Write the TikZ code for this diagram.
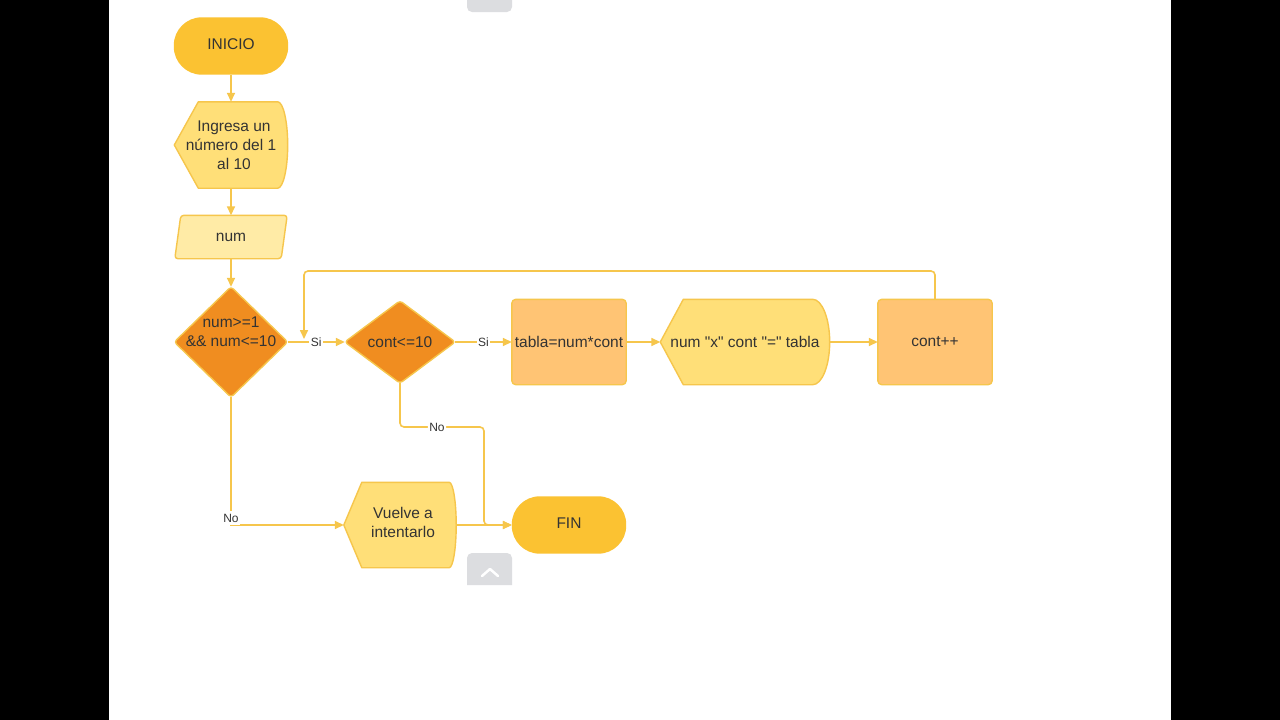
\documentclass[tikz,border=0pt]{standalone}
\usepackage{fontspec}
\setmainfont{Liberation Sans}[Ligatures=TeXOff]
\usetikzlibrary{arrows.meta,calc}
\definecolor{gold}{HTML}{FBC232}
\definecolor{lyel}{HTML}{FFDF78}
\definecolor{pyel}{HTML}{FFEBA6}
\definecolor{orng}{HTML}{F08D20}
\definecolor{lorng}{HTML}{FFC474}
\definecolor{edgec}{HTML}{F6C64C}
\definecolor{txt}{HTML}{333333}
\definecolor{tabgray}{HTML}{DCDDE0}
\pgfdeclarelayer{bg}
\pgfdeclarelayer{canvas}
\pgfsetlayers{canvas,bg,main}
\tikzset{
  box/.style={rectangle, inner sep=0pt, align=center, text=txt,
    font=\fontsize{15.5}{19}\selectfont},
  shapeline/.style={draw=edgec, line width=1.4pt, line join=round},
  conn/.style={draw=edgec, line width=1.6pt, -{Triangle[length=9pt,width=8pt]}},
  lbl/.style={fill=white, text=txt, inner sep=1.5pt, font=\fontsize{12}{14}\selectfont},
}
\newcommand\dispshape[5]{% name, tip, bulge, halfh, style
  \path[#5] (#1.west) -- ($(#1.north west)+(#2,0)$) -- ($(#1.north east)+(-#3,0)$)
    .. controls ($(#1.north east)+({-0.45*#3},0)$) and ($(#1.east)+(0,{-0.55*#4})$) .. (#1.east)
    .. controls ($(#1.east)+(0,{0.55*#4})$) and ($(#1.south east)+({-0.45*#3},0)$) .. ($(#1.south east)+(-#3,0)$)
    -- ($(#1.south west)+(#2,0)$) -- cycle;}
\begin{document}
\begin{tikzpicture}[x=1pt,y=-1pt]
\useasboundingbox (0,0) rectangle (1280,720);
\begin{pgfonlayer}{canvas}
\fill[white] (0,0) rectangle (1280,720);
\fill[black] (0,0) rectangle (109,720);
\fill[black] (1171,0) rectangle (1280,720);
% UI tabs
\fill[tabgray] (467,0) [rounded corners=5] -- (467,12) -- (512,12) [sharp corners] -- (512,0) -- cycle;
\fill[tabgray] (467,585) [rounded corners=5] -- (467,553) -- (512,553) [sharp corners] -- (512,585) -- cycle;
\draw[white, line width=2.5pt, line cap=round, line join=round] (482,576) -- (490,569) -- (498,576);
\end{pgfonlayer}

% nodes
\node[box, minimum width=114pt, minimum height=57pt, text depth=4pt] (ini) at (231,46) {INICIO};
\node[box, minimum width=113pt, minimum height=86pt] (ing) at (231,145) {\hspace*{6pt}Ingresa un\\número del 1\\\hspace*{6pt}al 10};
\node[box, minimum width=112pt, minimum height=43pt] (num) at (231,237) {num};
\node[box, minimum width=113pt, minimum height=110pt] (d1) at (231,342) {num>=1\\\&\& num<=10\\[-4pt]\strut};
\node[box, minimum width=110pt, minimum height=82pt] (d2) at (400,342) {cont<=10};
\node[box, minimum width=114pt, minimum height=85pt] (tab) at (569,342) {tabla=num*cont};
\node[box, minimum width=169pt, minimum height=85pt] (out) at (745,342) {num "x" cont "=" tabla};
\node[box, minimum width=114pt, minimum height=85pt] (inc) at (935,342) {cont++};
\node[box, minimum width=112pt, minimum height=85pt] (vue) at (400,525) {\hspace*{6pt}Vuelve a\\\hspace*{6pt}intentarlo\\[-13pt]\mbox{}};
\node[box, minimum width=114pt, minimum height=57pt, text depth=4pt] (fin) at (569,525) {FIN};

% shapes behind
\begin{pgfonlayer}{bg}
\path[fill=gold, rounded corners=28pt] (ini.north west) rectangle (ini.south east);
\path[fill=gold, rounded corners=28pt] (fin.north west) rectangle (fin.south east);
\dispshape{ing}{24}{10}{43}{shapeline, fill=lyel}
\path[shapeline, fill=pyel, rounded corners=3pt] ($(num.north west)+(6,0)$) -- (num.north east) -- ($(num.south east)+(-6,0)$) -- (num.south west) -- cycle;
\path[shapeline, fill=orng, rounded corners=3pt] (d1.north) -- (d1.east) -- (d1.south) -- (d1.west) -- cycle;
\path[shapeline, fill=orng, rounded corners=3pt] (d2.north) -- (d2.east) -- (d2.south) -- (d2.west) -- cycle;
\path[shapeline, fill=lorng, rounded corners=4pt] (tab.north west) rectangle (tab.south east);
\dispshape{out}{23}{17}{42.5}{shapeline, fill=lyel}
\path[shapeline, fill=lorng, rounded corners=4pt] (inc.north west) rectangle (inc.south east);
\dispshape{vue}{18}{7}{42.5}{shapeline, fill=lyel}
\end{pgfonlayer}

% connectors
\coordinate (ltop) at (304,271);
\coordinate (lend) at (304,339);
\coordinate (nno) at (484,427);
\draw[conn] (ini.south) -- (ing.north);
\draw[conn] (ing.south) -- (num.north);
\draw[conn] (num.south) -- (d1.north);
\draw[conn] (d1.east) -- node[lbl]{Si} (d2.west);
\draw[conn] (d2.east) -- node[lbl]{Si} (tab.west);
\draw[conn] (tab.east) -- (out.west);
\draw[conn] (out.east) -- (inc.west);
\draw[conn, rounded corners=4pt] (inc.north) |- (ltop) -- (lend);
\draw[conn] (d1.south) |- node[lbl, pos=0.5, yshift=7pt, inner ysep=3pt]{No} (vue.west);
\draw[conn, rounded corners=4pt] (d2.south) |- node[lbl, pos=0.72]{No} (nno) |- (fin.west);
\draw[conn] (vue.east) -- (fin.west);
\end{tikzpicture}
\end{document}
